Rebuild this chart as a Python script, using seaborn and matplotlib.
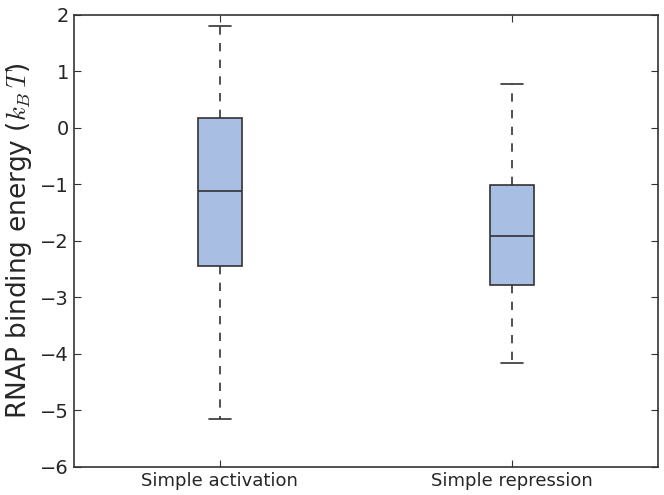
import seaborn as sns
import matplotlib.pyplot as plt
import pandas as pd
import numpy as np

# five-number summaries (min, q1, median, q3, max)
categories = ['Simple activation', 'Simple repression']
activation = [-5.15, -2.45, -1.12, 0.17, 1.80]
repression = [-4.17, -2.78, -1.92, -1.02, 0.77]

df = pd.DataFrame({
    'group': [categories[0]] * len(activation) + [categories[1]] * len(repression),
    'energy': activation + repression,
})

sns.set_style('white')
plt.rcParams['font.family'] = ['DejaVu Sans']
plt.rcParams['mathtext.fontset'] = 'cm'

fig = plt.figure(figsize=(6.64, 4.95), dpi=100)
ax = fig.add_axes([0.111, 0.057, 0.88, 0.913])

edge = '#333333'
sns.boxplot(data=df, x='group', y='energy', ax=ax, width=0.15, whis=np.inf,
            color='#a8bfe3', saturation=1, linewidth=1.2,
            boxprops=dict(edgecolor=edge),
            medianprops=dict(color=edge),
            whiskerprops=dict(color=edge, linestyle=(0, (5, 5))),
            capprops=dict(color=edge),
            showfliers=False)

ax.set_xlim(-0.5, 1.5)
ax.set_ylim(-6, 2)
ax.set_yticks(range(-6, 3))
ax.set_yticklabels([str(v).replace('-', '\u2212') for v in range(-6, 3)])
ax.set_xlabel('')
ax.set_ylabel(r'RNAP binding energy ($k_B\,T$)', fontsize=19)
ax.tick_params(axis='y', labelsize=14, direction='in', length=5, right=True, left=True, color=edge)
ax.tick_params(axis='x', labelsize=13, direction='in', length=5, top=True, bottom=True, color=edge)
for s in ax.spines.values():
    s.set_color(edge)
    s.set_linewidth(1.2)

fig.savefig('out.png', dpi=100)
